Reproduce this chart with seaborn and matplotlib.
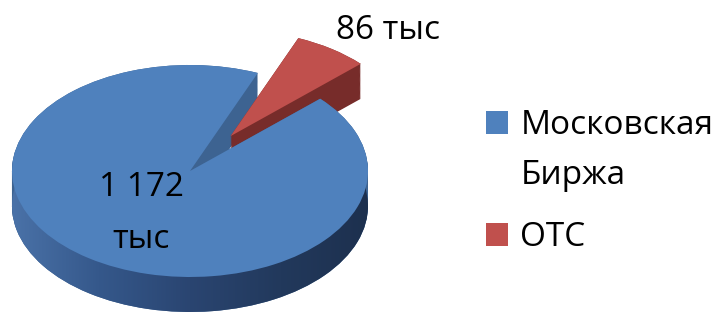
import numpy as np
import matplotlib
matplotlib.use('Agg')
import matplotlib.pyplot as plt
import matplotlib.patches as mpatches
from matplotlib.colors import LinearSegmentedColormap
import seaborn as sns

# ---- data ----
categories = ['Московская', 'Биржа', 'ОТС']   # legend text (first entry is two lines)
values = [1172, 86]
value_labels = ['1 172\nтыс', '86 тыс']

sns.set_theme(style='white')
plt.rcParams['font.family'] = ['Open Sans', 'DejaVu Sans']
plt.rcParams['text.color'] = 'black'

top_colors = sns.color_palette(['#4f81bd', '#c0504d'])
side_colors = ['#3d6391', '#772c2a']

W, H = 725, 312
fig = plt.figure(figsize=(W / 100, H / 100), dpi=100)
ax = fig.add_axes([0, 0, 1, 1])

# geometry (pixels): ellipse centre and semi-axes
cx, cy = 190, 141
rx, ry = 178, 106
depth = 0.33
start = 43
explode = [0, 0.40]

n_layers = 40
lowest = None
for i, dz in enumerate(np.linspace(depth, 0, n_layers)):
    w, _ = ax.pie(values, colors=side_colors, startangle=start, counterclock=False,
                  explode=explode, center=(0, -dz),
                  wedgeprops=dict(linewidth=0, zorder=1))
    if i == 0:
        lowest = w

cmap = LinearSegmentedColormap.from_list(
    'side', ['#4b73a9', '#35588b', '#2a4571', '#22395c', '#1d304e'])
grad = np.linspace(0, 1, 256)[None, :]
im = ax.imshow(grad, extent=(-1.02, 1.02, -1.45, -0.05), aspect='auto',
               cmap=cmap, zorder=1.5, origin='lower')
im.set_clip_path(lowest[0])

top, _ = ax.pie(values, colors=top_colors, startangle=start, counterclock=False,
                explode=explode, center=(0, 0),
                wedgeprops=dict(linewidth=0, zorder=2))

ax.set_aspect('auto')
ax.set_xlim(-cx / rx, (W - cx) / rx)
ax.set_ylim(-cy / ry, (H - cy) / ry)
ax.axis('off')

fs = 24
ax.text(-0.275, -0.40, value_labels[0], ha='center', va='center',
        multialignment='center', fontsize=fs, linespacing=1.75, zorder=5)
ax.text(1.112, 1.33, value_labels[1], ha='center', va='center',
        fontsize=fs, zorder=5)

blank = mpatches.Patch(facecolor='none', edgecolor='none')
leg1 = fig.legend([top[0], blank], categories[:2], loc='upper left',
                  bbox_to_anchor=(486 / W, 1 - 109 / H), bbox_transform=fig.transFigure,
                  frameon=False, fontsize=fs, borderpad=0, borderaxespad=0,
                  handlelength=0.67, handleheight=0.67, handletextpad=0.36,
                  labelspacing=0.52)
leg2 = fig.legend([top[1]], categories[2:], loc='upper left',
                  bbox_to_anchor=(486 / W, 1 - 221 / H), bbox_transform=fig.transFigure,
                  frameon=False, fontsize=fs, borderpad=0, borderaxespad=0,
                  handlelength=0.67, handleheight=0.67, handletextpad=0.36)

fig.savefig('out.png', dpi=100, facecolor='white')
